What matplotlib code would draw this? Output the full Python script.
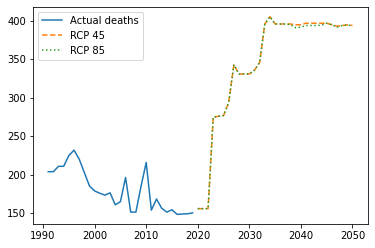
import matplotlib
matplotlib.use("Agg")
import matplotlib.pyplot as plt

years_actual = list(range(1991, 2020))
actual_deaths = [204, 204, 211, 211, 225, 232, 220.5, 203, 185.5, 179, 176, 173.5, 176.5,
                 161, 165, 196.5, 151.5, 151.5, 185, 216, 154, 168.5, 156.5, 151.5, 154.5,
                 148.5, 149, 149.3, 150.5]

years_proj = list(range(2020, 2051))
rcp45 = [156, 156, 156, 275, 276, 277, 294, 343, 331, 331, 331, 336, 346, 396, 405.5,
         396, 396, 396, 396, 395, 395, 397, 397, 397, 397, 397, 395, 393, 394, 395, 394]
rcp85 = [156, 156, 156, 275, 276, 277, 294, 343, 331, 331, 331, 336, 346, 396, 405.5,
         396, 396, 396, 395, 391, 392, 394, 394, 394, 394.5, 397, 395, 392, 394, 394.5, 394]

fig = plt.figure(figsize=(375 / 72, 248 / 72), dpi=72)
ax = fig.add_axes([0.088, 0.0956, 0.8925, 0.877])
ax.plot(years_actual, actual_deaths, label="Actual deaths")
ax.plot(years_proj, rcp45, linestyle="--", label="RCP 45")
ax.plot(years_proj, rcp85, linestyle=":", label="RCP 85")
ax.legend(loc="upper left")
fig.savefig("out.png", dpi=72)
